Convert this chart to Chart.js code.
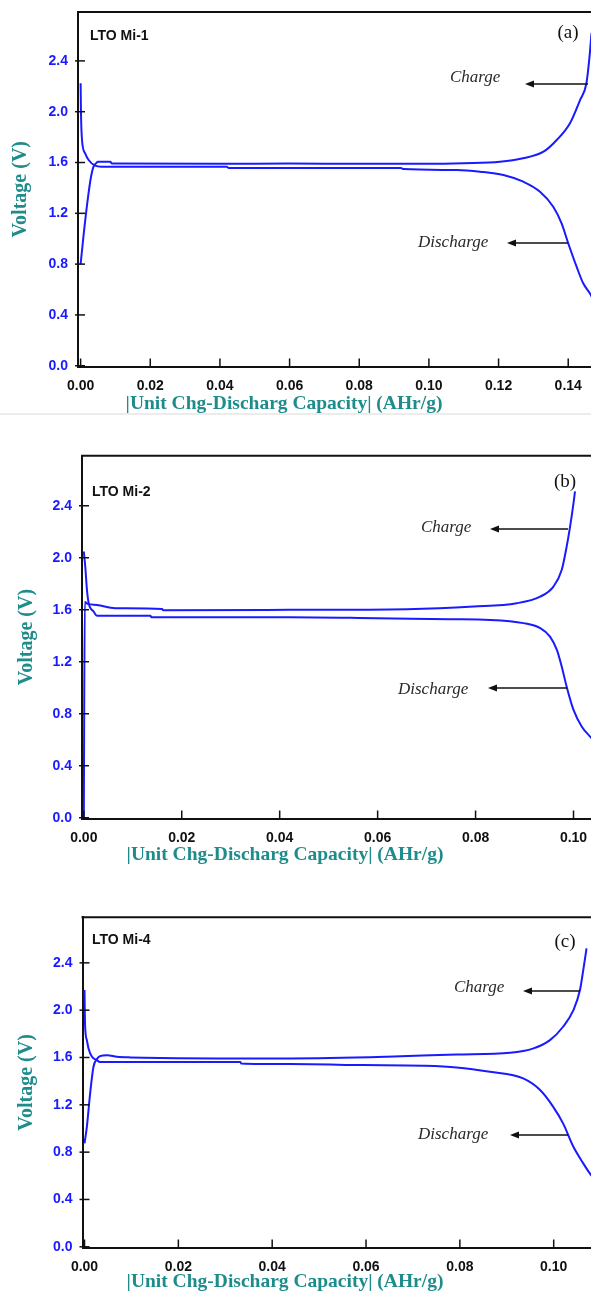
<!DOCTYPE html>
<html>
<head>
<meta charset="utf-8">
<script src="https://cdn.jsdelivr.net/npm/chart.js@4.4.1/dist/chart.umd.min.js"></script>
<style>
html, body { margin: 0; padding: 0; background: #fff; }
body { width: 591px; height: 1293px; position: relative; overflow: hidden; }
.panel { position: absolute; left: 0; width: 591px; }
.panel canvas { display: block; }
.sep { position: absolute; left: 0; top: 413px; width: 591px; height: 2px; background: #ececec; }
</style>
</head>
<body>
<div class="panel" style="top:0;height:420px"><canvas id="chartA" width="591" height="420"></canvas></div>
<div class="sep"></div>
<div class="panel" style="top:420px;height:452px"><canvas id="chartB" width="591" height="452"></canvas></div>
<div class="panel" style="top:860px;height:433px"><canvas id="chartC" width="591" height="433"></canvas></div>
<script>
// tick values
const voltTicks = [0.0, 0.4, 0.8, 1.2, 1.6, 2.0, 2.4];
const capTicksA = [0.00, 0.02, 0.04, 0.06, 0.08, 0.10, 0.12, 0.14];
const capTicksB = [0.00, 0.02, 0.04, 0.06, 0.08, 0.10];
const capTicksC = [0.00, 0.02, 0.04, 0.06, 0.08, 0.10];

// (a) LTO Mi-1
const chgCapA = [0, 0.0009, 0.002, 0.003, 0.0037, 0.0045, 0.005, 0.0085, 0.009, 0.040, 0.060, 0.080, 0.100, 0.110, 0.1204, 0.127, 0.1329, 0.1367, 0.1405, 0.1434, 0.1452, 0.1460, 0.1467];
const chgVoltA = [0.80, 1.04, 1.30, 1.49, 1.567, 1.595, 1.606, 1.606, 1.592, 1.590, 1.592, 1.590, 1.590, 1.595, 1.606, 1.633, 1.685, 1.777, 1.909, 2.092, 2.22, 2.40, 2.62];
const disCapA = [0, 0.0001, 0.0004, 0.0013, 0.0023, 0.0042, 0.006, 0.042, 0.0425, 0.092, 0.0927, 0.108, 0.1147, 0.1214, 0.1271, 0.1319, 0.1357, 0.1381, 0.140, 0.1424, 0.1443, 0.1462, 0.147];
const disVoltA = [2.224, 2.00, 1.777, 1.672, 1.62, 1.575, 1.567, 1.566, 1.557, 1.556, 1.549, 1.541, 1.528, 1.502, 1.449, 1.37, 1.252, 1.121, 0.964, 0.78, 0.649, 0.57, 0.53];

// (b) LTO Mi-2
const chgCapB = [0, 0.0002, 0.0008, 0.0027, 0.0064, 0.016, 0.0162, 0.042, 0.066, 0.0796, 0.0884, 0.0932, 0.0959, 0.0976, 0.0986, 0.0993, 0.1000, 0.1003];
const chgVoltB = [0.0, 1.66, 1.645, 1.637, 1.612, 1.605, 1.597, 1.599, 1.604, 1.624, 1.65, 1.701, 1.778, 1.907, 2.086, 2.24, 2.42, 2.51];
const disCapB = [0, 0.0003, 0.00065, 0.001, 0.002, 0.0027, 0.0136, 0.0138, 0.042, 0.0598, 0.0748, 0.083, 0.0898, 0.0932, 0.0952, 0.0966, 0.0976, 0.0986, 0.1000, 0.1017, 0.1034, 0.104];
const disVoltB = [2.048, 1.93, 1.75, 1.65, 1.586, 1.553, 1.553, 1.543, 1.543, 1.535, 1.527, 1.522, 1.497, 1.458, 1.393, 1.291, 1.162, 1.008, 0.829, 0.70, 0.624, 0.60];

// (c) LTO Mi-4
const chgCapC = [0, 0.0005, 0.0012, 0.0019, 0.0026, 0.0033, 0.0048, 0.0069, 0.0097, 0.0438, 0.0644, 0.0793, 0.0907, 0.0957, 0.0992, 0.102, 0.1042, 0.1056, 0.1063, 0.107];
const chgVoltC = [0.874, 1.014, 1.297, 1.52, 1.584, 1.612, 1.62, 1.606, 1.601, 1.592, 1.606, 1.626, 1.64, 1.677, 1.747, 1.86, 2.0, 2.17, 2.339, 2.522];
const disCapC = [0, 0.0001, 0.0005, 0.00085, 0.0016, 0.0026, 0.0033, 0.0332, 0.0334, 0.0438, 0.0594, 0.0722, 0.0793, 0.0864, 0.0935, 0.0971, 0.0999, 0.102, 0.1042, 0.1063, 0.1077, 0.1085];
const disVoltC = [2.17, 1.888, 1.747, 1.677, 1.606, 1.578, 1.561, 1.561, 1.55, 1.544, 1.536, 1.53, 1.516, 1.479, 1.423, 1.325, 1.183, 1.043, 0.845, 0.705, 0.62, 0.58];

const blue = '#1a1aff';
const teal = '#1f8c8c';
const sans = "'Liberation Sans', Arial, sans-serif";
const serif = "'Liberation Serif', 'Times New Roman', serif";

function pairs(xs, ys) {
  return xs.map((x, i) => ({ x: x, y: ys[i] }));
}

function arrow(ctx, tail, head, y) {
  ctx.beginPath();
  ctx.moveTo(tail, y);
  ctx.lineTo(head + 6, y);
  ctx.stroke();
  ctx.beginPath();
  ctx.moveTo(head, y);
  ctx.lineTo(head + 9, y - 3.5);
  ctx.lineTo(head + 9, y + 3.5);
  ctx.closePath();
  ctx.fill();
}

// inward ticks, top frame line, labels and arrows
const deco = {
  id: 'deco',
  afterDraw(chart, args, o) {
    const ctx = chart.ctx;
    const area = chart.chartArea;
    const xs = chart.scales.x, ys = chart.scales.y;
    ctx.save();
    ctx.strokeStyle = '#111';
    ctx.lineWidth = 2;
    ctx.beginPath();
    ctx.moveTo(area.left - 1, area.top);
    ctx.lineTo(area.right, area.top);
    ctx.stroke();
    ctx.lineWidth = 1.5;
    xs.ticks.forEach(t => {
      const px = xs.getPixelForValue(t.value);
      ctx.beginPath(); ctx.moveTo(px, area.bottom); ctx.lineTo(px, area.bottom - 8); ctx.stroke();
    });
    ys.ticks.forEach(t => {
      const py = ys.getPixelForValue(t.value);
      ctx.beginPath(); ctx.moveTo(area.left - 3, py); ctx.lineTo(area.left + 7, py); ctx.stroke();
    });

    ctx.fillStyle = '#111';
    ctx.textBaseline = 'middle';
    ctx.textAlign = 'left';
    ctx.font = 'bold 14px ' + sans;
    ctx.fillText(o.name, o.nameX, o.nameY);
    ctx.textAlign = 'center';
    ctx.font = '19px ' + serif;
    ctx.fillText(o.tag, o.tagX, o.tagY);

    ctx.fillStyle = '#2a2a2a';
    ctx.textAlign = 'left';
    ctx.font = 'italic 17px ' + serif;
    ctx.fillText('Charge', o.chgX, o.chgY);
    ctx.fillText('Discharge', o.disX, o.disY);
    ctx.strokeStyle = '#111';
    ctx.fillStyle = '#111';
    ctx.lineWidth = 1.5;
    arrow(ctx, o.chgTail, o.chgHead, o.chgArrowY);
    arrow(ctx, o.disTail, o.disHead, o.disArrowY);

    ctx.fillStyle = teal;
    ctx.textAlign = 'center';
    ctx.font = 'bold 19.5px ' + serif;
    ctx.fillText('|Unit Chg-Discharg Capacity| (AHr/g)', o.titleX, o.titleY);
    ctx.restore();
  }
};

function makePanel(id, p) {
  const ctx = document.getElementById(id).getContext('2d');
  return new Chart(ctx, {
    type: 'scatter',
    data: {
      datasets: [
        { label: 'Charge', data: pairs(p.chgCap, p.chgVolt) },
        { label: 'Discharge', data: pairs(p.disCap, p.disVolt) }
      ]
    },
    options: {
      responsive: false,
      animation: false,
      showLine: true,
      layout: { autoPadding: false, padding: { left: 0, top: p.top, right: 0, bottom: 0 } },
      elements: {
        point: { radius: 0 },
        line: { borderColor: blue, borderWidth: 2, tension: 0, cubicInterpolationMode: 'monotone', fill: false }
      },
      scales: {
        x: {
          type: 'linear',
          min: p.xmin,
          max: p.xmax,
          afterBuildTicks: s => { s.ticks = p.capTicks.map(v => ({ value: v })); },
          afterFit: s => { s.height = p.height - p.bottom; },
          grid: { display: false },
          border: { display: true, color: '#111', width: 2 },
          ticks: {
            padding: 3,
            color: '#111',
            font: { family: sans, size: 14, weight: 'bold' },
            maxRotation: 0,
            callback: v => v.toFixed(2)
          }
        },
        y: {
          type: 'linear',
          min: -0.006,
          max: 2.785,
          afterBuildTicks: s => { s.ticks = voltTicks.map(v => ({ value: v })); },
          afterFit: s => { s.width = p.left; },
          grid: { display: false },
          border: { display: true, color: '#111', width: 2 },
          title: {
            display: true,
            text: 'Voltage (V)',
            color: teal,
            font: { family: serif, size: 20, weight: 'bold' },
            padding: { top: p.ytitlePad, bottom: 0 }
          },
          ticks: {
            padding: 2,
            color: blue,
            font: { family: sans, size: 14, weight: 'bold' },
            callback: v => v.toFixed(1)
          }
        }
      },
      plugins: {
        legend: { display: false },
        tooltip: { enabled: false },
        deco: p.deco
      }
    },
    plugins: [deco]
  });
}

makePanel('chartA', {
  chgCap: chgCapA, chgVolt: chgVoltA, disCap: disCapA, disVolt: disVoltA,
  capTicks: capTicksA, xmin: -0.00075, xmax: 0.14654,
  height: 420, top: 12, left: 78, bottom: 366.5, ytitlePad: 9,
  deco: {
    name: 'LTO Mi-1', nameX: 90, nameY: 36, tag: '(a)', tagX: 568, tagY: 33,
    chgX: 450, chgY: 78, chgTail: 588, chgHead: 525, chgArrowY: 84,
    disX: 418, disY: 243, disTail: 568, disHead: 507, disArrowY: 243,
    titleX: 284, titleY: 404
  }
});

makePanel('chartB', {
  chgCap: chgCapB, chgVolt: chgVoltB, disCap: disCapB, disVolt: disVoltB,
  capTicks: capTicksB, xmin: -0.00037, xmax: 0.10357,
  height: 452, top: 35.7, left: 82, bottom: 398.5, ytitlePad: 15,
  deco: {
    name: 'LTO Mi-2', nameX: 92, nameY: 72, tag: '(b)', tagX: 565, tagY: 62,
    chgX: 421, chgY: 108, chgTail: 568, chgHead: 490, chgArrowY: 109,
    disX: 398, disY: 270, disTail: 567, disHead: 488, disArrowY: 268,
    titleX: 285, titleY: 435
  }
});

makePanel('chartC', {
  chgCap: chgCapC, chgVolt: chgVoltC, disCap: disCapC, disVolt: disVoltC,
  capTicks: capTicksC, xmin: -0.00043, xmax: 0.10795,
  height: 433, top: 57.3, left: 82.5, bottom: 387.5, ytitlePad: 15,
  deco: {
    name: 'LTO Mi-4', nameX: 92, nameY: 80, tag: '(c)', tagX: 565, tagY: 82,
    chgX: 454, chgY: 128, chgTail: 580, chgHead: 523, chgArrowY: 131,
    disX: 418, disY: 275, disTail: 568, disHead: 510, disArrowY: 275,
    titleX: 285, titleY: 422
  }
});
</script>
</body>
</html>
